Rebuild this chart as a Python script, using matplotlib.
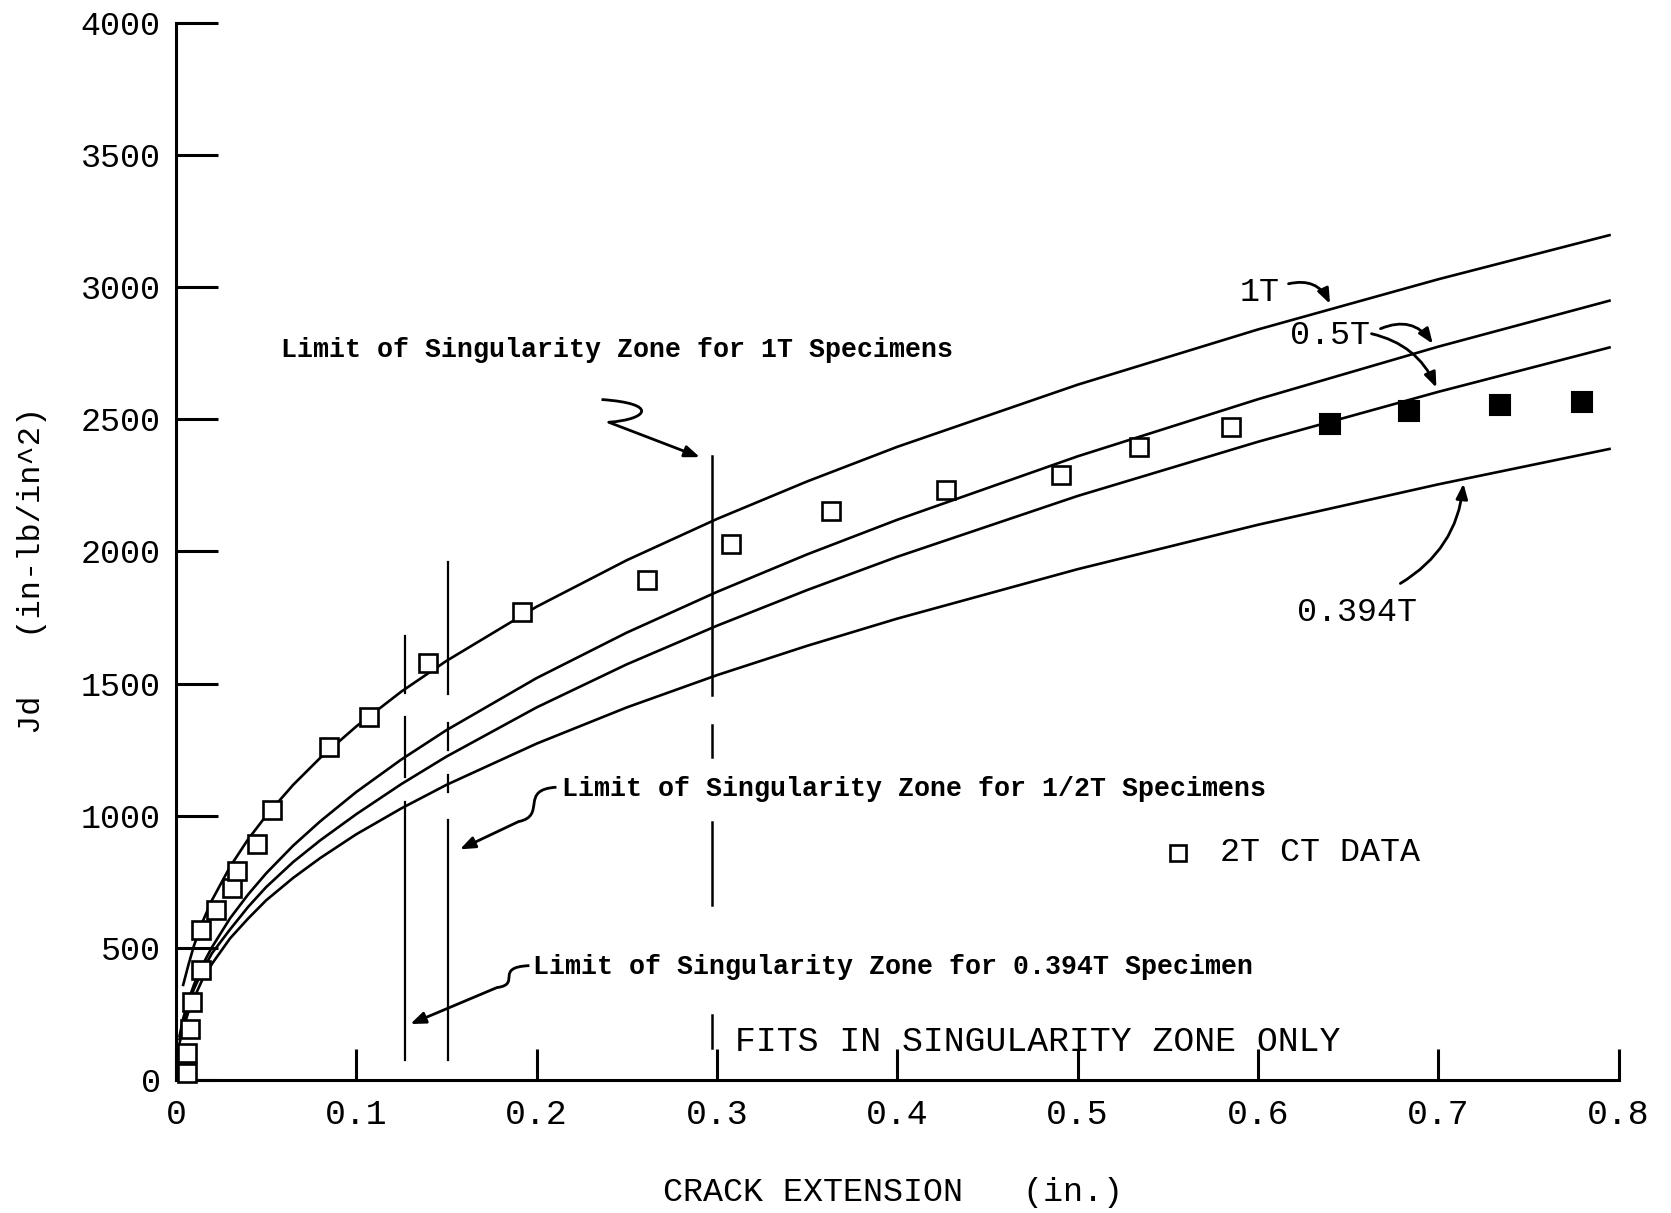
import matplotlib
matplotlib.use("Agg")
import matplotlib.pyplot as plt
from matplotlib.path import Path
from matplotlib.patches import PathPatch

# 2T CT data (open = within fit, filled = beyond)
crack_open = [0.006, 0.006, 0.008, 0.009, 0.014, 0.014, 0.022, 0.031, 0.034, 0.045, 0.053,
              0.085, 0.107, 0.140, 0.192, 0.261, 0.308, 0.363, 0.427, 0.491, 0.534, 0.585]
jd_open = [25, 101, 195, 296, 416, 567, 643, 725, 790, 895, 1022,
           1260, 1374, 1578, 1771, 1893, 2029, 2152, 2233, 2291, 2394, 2470]
crack_filled = [0.640, 0.684, 0.734, 0.780]
jd_filled = [2483, 2533, 2556, 2564]

# fitted curves
fit_x = [0.002, 0.004, 0.007, 0.01, 0.015, 0.02, 0.03, 0.04, 0.05, 0.065, 0.08, 0.1,
         0.125, 0.15, 0.2, 0.25, 0.3, 0.35, 0.4, 0.5, 0.6, 0.7, 0.795]
fit_1t = [360, 438, 509, 603, 681, 807, 911, 1000, 1117, 1219, 1338,
          1470, 1586, 1791, 1967, 2123, 2265, 2396, 2631, 2840, 3030, 3197]
fit_05t_a = [167, 233, 304, 361, 439, 503, 612, 702, 782, 887, 979, 1090,
             1213, 1324, 1521, 1693, 1847, 1989, 2120, 2360, 2576, 2775, 2949]
fit_05t_b = [155, 220, 290, 345, 418, 480, 570, 655, 730, 825, 907, 1006,
             1120, 1224, 1410, 1573, 1719, 1854, 1980, 2210, 2415, 2604, 2772]
fit_0394t = [140, 195, 260, 310, 385, 440, 536, 611, 680, 765, 840, 930,
             1028, 1117, 1273, 1410, 1532, 1643, 1746, 1933, 2101, 2254, 2388]

# singularity zone limits (x position, broken segments in Jd)
zone_0394t_x = 0.127
zone_0394t_segs = [(1463, 1679), (1147, 1374), (76, 1052)]
zone_half_x = 0.151
zone_half_segs = [(1462, 1960), (1248, 1350), (1090, 1153), (76, 983)]
zone_1t_x = 0.297
zone_1t_segs = [(1456, 2363), (1221, 1342), (662, 975), (121, 246)]

x_ticks = [0, 0.1, 0.2, 0.3, 0.4, 0.5, 0.6, 0.7, 0.8]
x_ticklabels = ["0", "0.1", "0.2", "0.3", "0.4", "0.5", "0.6", "0.7", "0.8"]
y_ticks = [0, 500, 1000, 1500, 2000, 2500, 3000, 3500, 4000]

plotter = "Liberation Mono"

fig = plt.figure(figsize=(16.71, 12.13), dpi=100)
ax = fig.add_axes([0.1053, 0.1096, 0.8633, 0.8715])

lw = 1.9
ax.plot(fit_x[1:], fit_1t, color="black", lw=lw)
ax.plot(fit_x, fit_05t_a, color="black", lw=lw)
ax.plot(fit_x, fit_05t_b, color="black", lw=lw)
ax.plot(fit_x, fit_0394t, color="black", lw=lw)

ax.plot(crack_open, jd_open, ls="none", marker="s", ms=13.5, mfc="white",
        mec="black", mew=1.9, clip_on=False, zorder=5)
ax.plot(crack_filled, jd_filled, ls="none", marker="s", ms=14.5, mfc="black",
        mec="black", mew=1.5, clip_on=False, zorder=5)

for lo, hi in zone_0394t_segs:
    ax.plot([zone_0394t_x, zone_0394t_x], [lo, hi], color="black", lw=1.6)
for lo, hi in zone_half_segs:
    ax.plot([zone_half_x, zone_half_x], [lo, hi], color="black", lw=1.6)
for lo, hi in zone_1t_segs:
    ax.plot([zone_1t_x, zone_1t_x], [lo, hi], color="black", lw=1.8)

ax.set_xlim(0, 0.8)
ax.set_ylim(0, 4000)
ax.spines["top"].set_visible(False)
ax.spines["right"].set_visible(False)
ax.spines["left"].set_linewidth(2.2)
ax.spines["bottom"].set_linewidth(2.2)

ax.set_xticks(x_ticks)
ax.set_xticklabels(x_ticklabels)
ax.set_yticks(y_ticks)
ax.tick_params(axis="y", direction="in", length=30, width=2.2, pad=11, labelsize=24)
ax.tick_params(axis="x", direction="in", length=22, width=2.2, pad=13, labelsize=25)
for t in ax.get_xticklabels() + ax.get_yticklabels():
    t.set_family(plotter)

# annotations
ann = dict(family="Liberation Mono", weight="bold", fontsize=19.2)
ax.text(0.058, 2762, "Limit of Singularity Zone for 1T Specimens", va="center", **ann)
ax.text(0.214, 1102, "Limit of Singularity Zone for 1/2T Specimens", va="center", **ann)
ax.text(0.198, 429, "Limit of Singularity Zone for 0.394T Specimen", va="center", **ann)


def squiggle(p0, c1, c2, p1):
    path = Path([p0, c1, c2, p1], [Path.MOVETO, Path.CURVE4, Path.CURVE4, Path.CURVE4])
    ax.add_patch(PathPatch(path, fc="none", ec="black", lw=2))


arrow = dict(arrowstyle="-|>,head_length=0.9,head_width=0.35", color="black", lw=2,
             shrinkA=0, shrinkB=0)
squiggle((0.236, 2575), (0.268, 2560), (0.262, 2500), (0.240, 2489))
ax.annotate("", xy=(0.2905, 2357), xytext=(0.240, 2489), arrowprops=arrow)
squiggle((0.211, 1108), (0.190, 1100), (0.206, 1000), (0.190, 978))
ax.annotate("", xy=(0.1575, 873), xytext=(0.190, 978), arrowprops=arrow)
squiggle((0.196, 433), (0.176, 427), (0.192, 362), (0.178, 350))
ax.annotate("", xy=(0.130, 212), xytext=(0.178, 350), arrowprops=arrow)

lab = dict(family=plotter, fontsize=24)
ax.text(0.601, 2980, "1T", ha="center", va="center", **lab)
ax.annotate("", xy=(0.640, 2937), xytext=(0.617, 3013),
            arrowprops=dict(arrow, connectionstyle="arc3,rad=-0.4"))
ax.text(0.640, 2817, "0.5T", ha="center", va="center", **lab)
ax.annotate("", xy=(0.697, 2786), xytext=(0.668, 2843),
            arrowprops=dict(arrow, connectionstyle="arc3,rad=-0.4"))
ax.annotate("", xy=(0.699, 2620), xytext=(0.663, 2824),
            arrowprops=dict(arrow, connectionstyle="arc3,rad=-0.25"))
ax.text(0.655, 1769, "0.394T", ha="center", va="center", **lab)
ax.annotate("", xy=(0.714, 2257), xytext=(0.679, 1879),
            arrowprops=dict(arrow, connectionstyle="arc3,rad=0.25"))

ax.plot([0.5555], [860], ls="none", marker="s", ms=11.5, mfc="white", mec="black", mew=1.9)
ax.text(0.579, 860, "2T CT DATA", va="center", **lab)
ax.text(0.31, 147, "FITS IN SINGULARITY ZONE ONLY", va="center", family=plotter, fontsize=25)

fig.text(893 / 1671, 1 - 1193 / 1213, "CRACK EXTENSION   (in.)", ha="center", va="center",
         family=plotter, fontsize=24)
fig.text(32 / 1671, 1 - 570 / 1213, "Jd   (in-lb/in^2)", ha="center", va="center",
         rotation=90, family=plotter, fontsize=23)

fig.savefig("out.png", dpi=100)
